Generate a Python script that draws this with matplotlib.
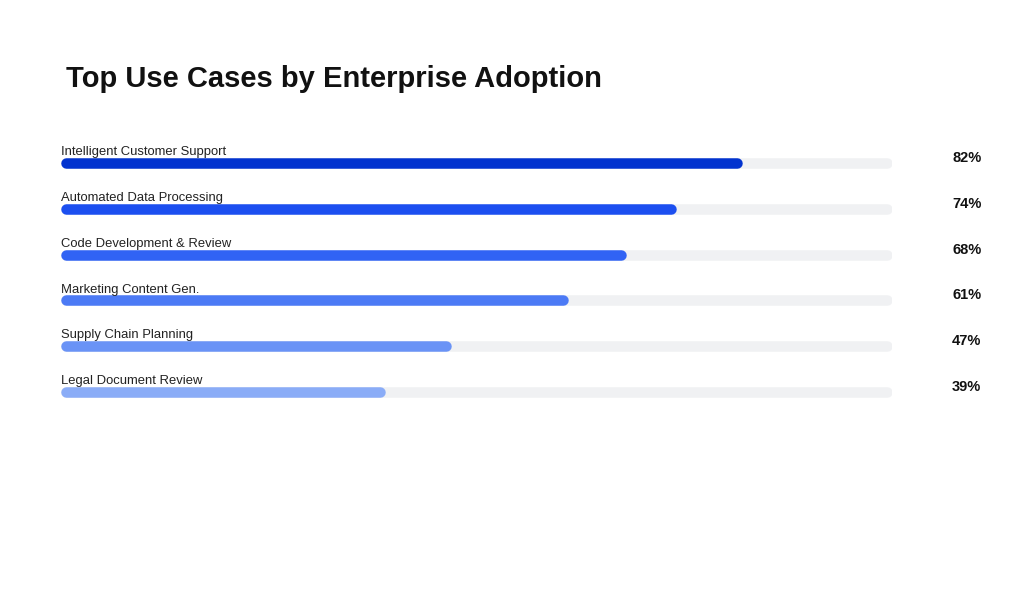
import matplotlib
matplotlib.use("Agg")
import matplotlib.pyplot as plt

categories = ["Intelligent Customer Support", "Automated Data Processing",
              "Code Development & Review", "Marketing Content Gen.",
              "Supply Chain Planning", "Legal Document Review"]
values = [82, 74, 68, 61, 47, 39]
colors = ["#0233cf", "#1c4ff0", "#3163f4", "#4c7af5", "#6a93f6", "#8aacf7"]
track_color = "#f0f1f3"
title = "Top Use Cases by Enterprise Adoption"

plt.rcParams['font.family'] = ['Liberation Sans', 'DejaVu Sans']
W, H = 1024, 614
fig = plt.figure(figsize=(W / 100, H / 100), dpi=100)
fig.patch.set_facecolor("white")

ax_left, ax_right = 61, 892
ax_top, ax_bottom = 140, 415
ax = fig.add_axes([ax_left / W, 1 - ax_bottom / H, (ax_right - ax_left) / W, (ax_bottom - ax_top) / H])
ax.set_xlim(0, 100)
ax.set_ylim(len(categories) - 0.5, -0.5)
ax.axis("off")

bar_px = 10.5
lw_pt = bar_px * 72 / 100
r_data = (bar_px / 2) / (ax_right - ax_left) * 100
row_px = (ax_bottom - ax_top) / len(categories)

for i, (cat, v, c) in enumerate(zip(categories, values, colors)):
    ax.plot([r_data, 100 - r_data], [i, i], color=track_color, lw=lw_pt,
            solid_capstyle="round", zorder=1)
    ax.plot([r_data, v - r_data], [i, i], color=c, lw=lw_pt,
            solid_capstyle="round", zorder=2)
    ax.text(0, i - (bar_px / 2 + 2.5) / row_px, cat, ha="left", va="baseline",
            fontsize=9.4, color="#222222")
    ax.text(109, i - 5 / row_px, f"{v}%", ha="center", va="center",
            fontsize=10.5, fontweight="bold", color="#111111", clip_on=False)

fig.text(66 / W, 1 - 87 / H, title, ha="left", va="baseline",
         fontsize=21, fontweight="bold", color="#111111")

fig.savefig("out.png", dpi=100, facecolor="white")
